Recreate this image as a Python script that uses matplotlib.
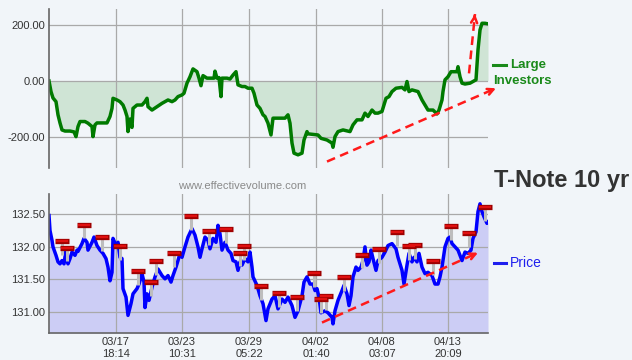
import matplotlib
matplotlib.use("Agg")
import matplotlib.pyplot as plt
from matplotlib.lines import Line2D
import numpy as np

plt.rcParams['font.family'] = ['Liberation Sans', 'DejaVu Sans']

# large investors (net position), bar index -> value
inv_bar = [0, 2, 4, 7, 9, 11, 13, 16, 21, 25, 27, 29, 31, 36, 39, 43, 44, 46, 48, 58,
           61, 63, 64, 68, 71, 74, 76, 78, 79, 81, 83, 84, 88, 93, 96, 98, 99, 103, 108, 113,
           116, 119, 123, 126, 129, 133, 135, 138, 141, 144, 148, 150, 152, 154, 158, 165, 166, 168, 170, 172,
           173, 178, 181, 184, 187, 189, 193, 196, 199, 203, 205, 208, 211, 214, 216, 219, 222, 224, 236, 239,
           241, 243, 245, 249, 253, 255, 258, 259, 269, 272, 278, 283, 284, 286, 289, 294, 301, 304, 308, 313,
           316, 319, 323, 326, 329, 333, 337, 340, 343, 347, 353, 356, 358, 360, 363, 369, 373, 376, 379, 384,
           388, 390, 393, 394, 396, 399, 402, 408, 409, 411, 413, 416, 421, 424, 427, 429, 431, 433, 436, 439]
inv_val = [0, -38, -61, -74, -121, -150, -175, -179, -179, -182, -199, -163, -145, -145, -151, -163, -199, -157, -150, -150,
           -127, -98, -62, -68, -74, -86, -104, -127, -181, -136, -166, -98, -86, -86, -74, -62, -92, -104, -92, -80,
           -74, -68, -74, -68, -56, -50, -44, -8, 15, 43, 33, 10, -17, 19, 10, 10, 35, 10, 12, -56,
           10, 10, 7, 21, 33, -14, -20, -20, -26, -26, -44, -86, -98, -121, -127, -151, -193, -133, -133, -121,
           -151, -222, -258, -264, -258, -211, -181, -189, -193, -205, -211, -222, -237, -199, -181, -175, -181, -157, -139, -139,
           -115, -127, -104, -115, -115, -109, -62, -56, -38, -26, -23, -32, -2, -38, -32, -38, -68, -86, -104, -104,
           -118, -104, -68, -38, 4, 15, 33, 33, 51, 15, -8, -11, -8, -2, 4, 111, 182, 206, 206, 204]

# price, bar index -> value
px_bar = [0, 1, 3, 4, 7, 9, 11, 13, 15, 17, 19, 21, 23, 26, 28, 29, 33, 35, 38, 39,
          43, 45, 48, 51, 54, 57, 59, 61, 63, 64, 67, 69, 71, 73, 74, 77, 79, 82, 84, 88,
          90, 93, 95, 96, 98, 100, 103, 106, 109, 113, 116, 119, 122, 124, 127, 129, 131, 133, 136, 139,
          143, 146, 149, 151, 153, 156, 159, 161, 164, 167, 169, 171, 173, 176, 179, 182, 184, 187, 189, 191,
          193, 196, 199, 201, 203, 204, 208, 211, 214, 217, 219, 223, 226, 229, 233, 236, 239, 243, 246, 249,
          253, 255, 258, 261, 264, 266, 268, 270, 272, 276, 279, 283, 284, 286, 289, 293, 295, 298, 300, 302,
          304, 307, 309, 312, 314, 316, 318, 320, 322, 324, 327, 329, 333, 336, 339, 343, 347, 349, 353, 355,
          358, 360, 363, 365, 368, 370, 373, 376, 379, 383, 386, 389, 391, 393, 396, 399, 401, 403, 406, 409,
          411, 413, 416, 419, 422, 424, 427, 429, 431, 433, 435, 438, 439]
px_val = [132.48, 132.25, 132.10, 132.00, 131.87, 131.77, 131.74, 131.79, 131.74, 131.95, 131.74, 131.82, 131.92, 131.87, 131.95, 131.93, 132.05, 132.13, 132.07, 131.95,
          132.07, 132.15, 132.02, 131.95, 131.90, 131.82, 131.69, 131.48, 131.61, 132.13, 132.02, 132.07, 131.84, 131.82, 131.36, 131.23, 130.95, 131.13, 131.28, 131.36,
          131.43, 131.59, 131.46, 131.07, 131.28, 131.18, 131.38, 131.54, 131.66, 131.56, 131.51, 131.56, 131.46, 131.56, 131.69, 131.79, 131.90, 131.84, 132.00, 132.15,
          132.28, 132.18, 132.00, 131.84, 131.97, 132.15, 132.10, 131.97, 132.13, 132.07, 132.33, 132.20, 131.95, 132.07, 131.95, 131.90, 131.79, 131.77, 131.64, 131.77,
          131.72, 131.82, 131.77, 131.92, 131.69, 131.54, 131.41, 131.25, 131.13, 130.87, 131.05, 131.20, 131.25, 131.05, 131.20, 131.15, 131.23, 131.10, 130.92, 131.02,
          131.25, 131.46, 131.54, 131.43, 131.43, 131.33, 131.36, 131.23, 130.99, 131.02, 130.99, 130.92, 130.82, 131.02, 131.18, 131.33, 131.41, 131.28, 131.10, 131.25,
          131.54, 131.69, 131.64, 131.69, 131.79, 132.00, 131.72, 131.77, 131.95, 131.82, 131.64, 131.79, 131.84, 131.92, 132.02, 132.05, 131.97, 131.84, 131.64, 131.43,
          131.72, 131.90, 131.77, 131.84, 131.77, 131.90, 131.69, 131.59, 131.61, 131.56, 131.43, 131.43, 131.54, 131.69, 132.00, 132.13, 132.15, 132.05, 132.00, 131.95,
          131.87, 131.79, 131.92, 131.90, 131.95, 132.13, 132.23, 132.54, 132.66, 132.54, 132.46, 132.36, 132.38]

# signal markers above the price
sig_bar = [13, 18, 35, 53, 71, 89, 102, 107, 125, 142, 160, 177, 191, 195, 212,
           230, 248, 265, 272, 277, 295, 313, 330, 348, 360, 366, 384, 402, 420, 436]
sig_val = [132.09, 131.99, 132.34, 132.15, 132.01, 131.63, 131.46, 131.78, 131.90, 132.47, 132.24, 132.27, 131.91, 132.01, 131.40,
           131.29, 131.23, 131.60, 131.20, 131.24, 131.54, 131.88, 131.97, 132.23, 132.01, 132.03, 131.78, 132.32, 132.21, 132.61]

# trend arrows (start, end)
inv_trend = ([278, 447], [-288, -26])
inv_jump = ([420, 426], [27, 239])
px_trend = ([273, 429], [130.84, 131.91])

tick_bar = [67, 133, 200, 267, 333, 399]
tick_lab = ['03/17\n18:14', '03/23\n10:31', '03/29\n05:22', '04/02\n01:40', '04/08\n03:07', '04/13\n20:09']

bg = '#f1f5f9'
W, H = 632, 360
fig = plt.figure(figsize=(6.32, 3.6), dpi=100, facecolor=bg)
ax1 = fig.add_axes([49 / W, 1 - 168 / H, 439 / W, 159 / H], facecolor=bg)
ax2 = fig.add_axes([49 / W, 1 - 333 / H, 439 / W, 139 / H], facecolor=bg)

for ax in (ax1, ax2):
    ax.set_xlim(0, 439)
    ax.set_xticks(tick_bar)
    ax.grid(True, color='#a9a9a9', lw=0.9)
    ax.tick_params(length=0, labelsize=8, labelcolor='#333333', pad=3)
    for s in ('top', 'right'):
        ax.spines[s].set_visible(False)
    ax.spines['left'].set_color('#666666')
    ax.spines['left'].set_linewidth(1.2)

# top panel
ax1.spines['bottom'].set_visible(False)
ax1.set_ylim(-311, 257)
ax1.set_yticks([-200, 0, 200])
ax1.set_yticklabels(['%.2f' % v for v in [-200, 0, 200]])
ax1.set_xticklabels([])
ax1.fill_between(inv_bar, inv_val, 0, color='#cfe4d5', lw=0)
ax1.plot(inv_bar, inv_val, color='#007a00', lw=2.5, solid_joinstyle='round')


def trend(ax, xs, ys):
    ax.plot(xs, ys, color='#ff1a1a', lw=1.8, dashes=(3.5, 2.2), clip_on=False, zorder=5)
    bx = xs[1] - 0.04 * (xs[1] - xs[0])
    by = ys[1] - 0.04 * (ys[1] - ys[0])
    ax.annotate('', xy=(xs[1], ys[1]), xytext=(bx, by),
                arrowprops=dict(arrowstyle='->', color='#ff1a1a', lw=1.8,
                                mutation_scale=11, shrinkA=0, shrinkB=0),
                annotation_clip=False, zorder=5)


trend(ax1, *inv_trend)
trend(ax1, *inv_jump)

# bottom panel
ax2.spines['bottom'].set_color('#666666')
ax2.spines['bottom'].set_linewidth(1.2)
ax2.set_ylim(130.68, 132.81)
ax2.set_yticks([131.0, 131.5, 132.0, 132.5])
ax2.set_yticklabels(['%.2f' % v for v in [131.0, 131.5, 132.0, 132.5]])
ax2.set_xticklabels(tick_lab, linespacing=1.25)
ax2.fill_between(px_bar, px_val, 130.68, color='#cccdf5', lw=0)
ax2.plot(px_bar, px_val, color='#0000ff', lw=2.5, solid_joinstyle='round')

sv = np.array(sig_val)
ax2.vlines(sig_bar, sv - 0.21, sv, color='#bdbdbd', lw=2.2, zorder=3)
ax2.plot(sig_bar, sig_val, ls='none', marker='_', ms=9.5, mew=3.8, color='#9e0000', clip_on=False, zorder=4)
ax2.plot(sig_bar, sig_val, ls='none', marker='_', ms=8, mew=1.7, color='#e01010', clip_on=False, zorder=4)
trend(ax2, *px_trend)

# labels
fig.text(242 / W, 1 - 186 / H, 'www.effectivevolume.com', color='#8a8a8a', fontsize=8,
         ha='center', va='center')
fig.text(494 / W, 1 - 180 / H, 'T-Note 10 yr', color='#333333', fontsize=17, fontweight='bold',
         ha='left', va='center')

green = '#1a8a1a'
fig.add_artist(Line2D([493 / W, 506 / W], [1 - 65 / H] * 2, color=green, lw=2.2))
fig.text(510 / W, 1 - 65 / H, 'Large', color=green, fontsize=9.5, fontweight='bold', ha='left', va='center')
fig.text(493 / W, 1 - 81 / H, 'Investors', color=green, fontsize=9.5, fontweight='bold', ha='left', va='center')

blue = '#1f1fee'
fig.add_artist(Line2D([494 / W, 506 / W], [1 - 263 / H] * 2, color=blue, lw=2.2))
fig.text(510 / W, 1 - 263 / H, 'Price', color=blue, fontsize=10, ha='left', va='center')

fig.savefig('out.png', dpi=100, facecolor=bg)
